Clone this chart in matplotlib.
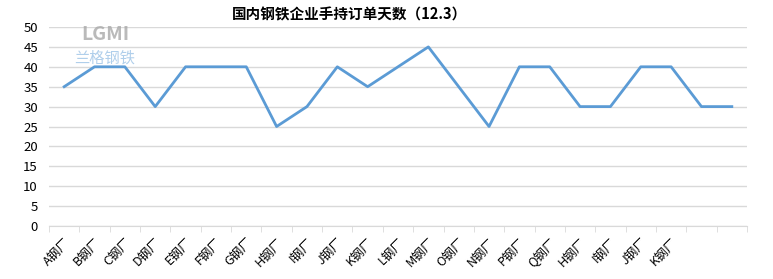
import matplotlib
matplotlib.use('Agg')
import matplotlib.pyplot as plt
import numpy as np

plt.rcParams['font.family'] = ['Noto Sans CJK SC', 'DejaVu Sans']

mills = ['A钢厂', 'B钢厂', 'C钢厂', 'D钢厂', 'E钢厂', 'F钢厂', 'G钢厂', 'H钢厂',
         'I钢厂', 'J钢厂', 'K钢厂', 'L钢厂', 'M钢厂', 'O钢厂', 'N钢厂', 'P钢厂',
         'Q钢厂', 'H钢厂', 'I钢厂', 'J钢厂', 'K钢厂', '', '']
days = [35, 40, 40, 30, 40, 40, 40, 25, 30, 40, 35, 40, 45, 35, 25, 40,
        40, 30, 30, 40, 40, 30, 30]
yticks = list(range(0, 51, 5))

fig = plt.figure(figsize=(7.73, 2.79), dpi=100)
ax = fig.add_axes([49 / 773, 53 / 279, 698 / 773, 199 / 279])

x = np.arange(len(days))
ax.plot(x, days, color='#5B9BD5', linewidth=2)

ax.set_xlim(-0.5, len(days) - 0.5)
ax.set_ylim(0, 50)
ax.set_yticks(yticks)
ax.set_yticklabels([str(v) for v in yticks], fontsize=9.5)
ax.yaxis.grid(True, color='#D9D9D9', linewidth=1)
ax.set_axisbelow(True)

# category labels at centres, tick marks at the boundaries
ax.set_xticks(x)
ax.set_xticklabels(mills, rotation=45, ha='right', va='top',
                   rotation_mode='anchor', fontsize=9)
ax.set_xticks(np.arange(-0.5, len(days)), minor=True)
ax.tick_params(axis='x', which='major', length=0, pad=7)
ax.tick_params(axis='x', which='minor', length=4, color='#D9D9D9', direction='out')
ax.tick_params(axis='y', length=0, pad=8)

for s in ['top', 'right', 'left']:
    ax.spines[s].set_visible(False)
ax.spines['bottom'].set_color('#D9D9D9')

fig.text(350 / 773, 1 - 14 / 279, '国内钢铁企业手持订单天数（12.3）',
         ha='center', va='center', fontsize=10.5, fontweight='bold')

# faint logo watermark
fig.text(105 / 773, 1 - 35 / 279, 'LGMI', ha='center', va='center',
         fontsize=14, fontweight='bold', color='#A9A9A9', alpha=0.8)
fig.text(105 / 773, 1 - 58 / 279, '兰格钢铁', ha='center', va='center',
         fontsize=11, color='#9DC3E6', alpha=0.8, style='italic')

fig.savefig('out.png', dpi=100)
